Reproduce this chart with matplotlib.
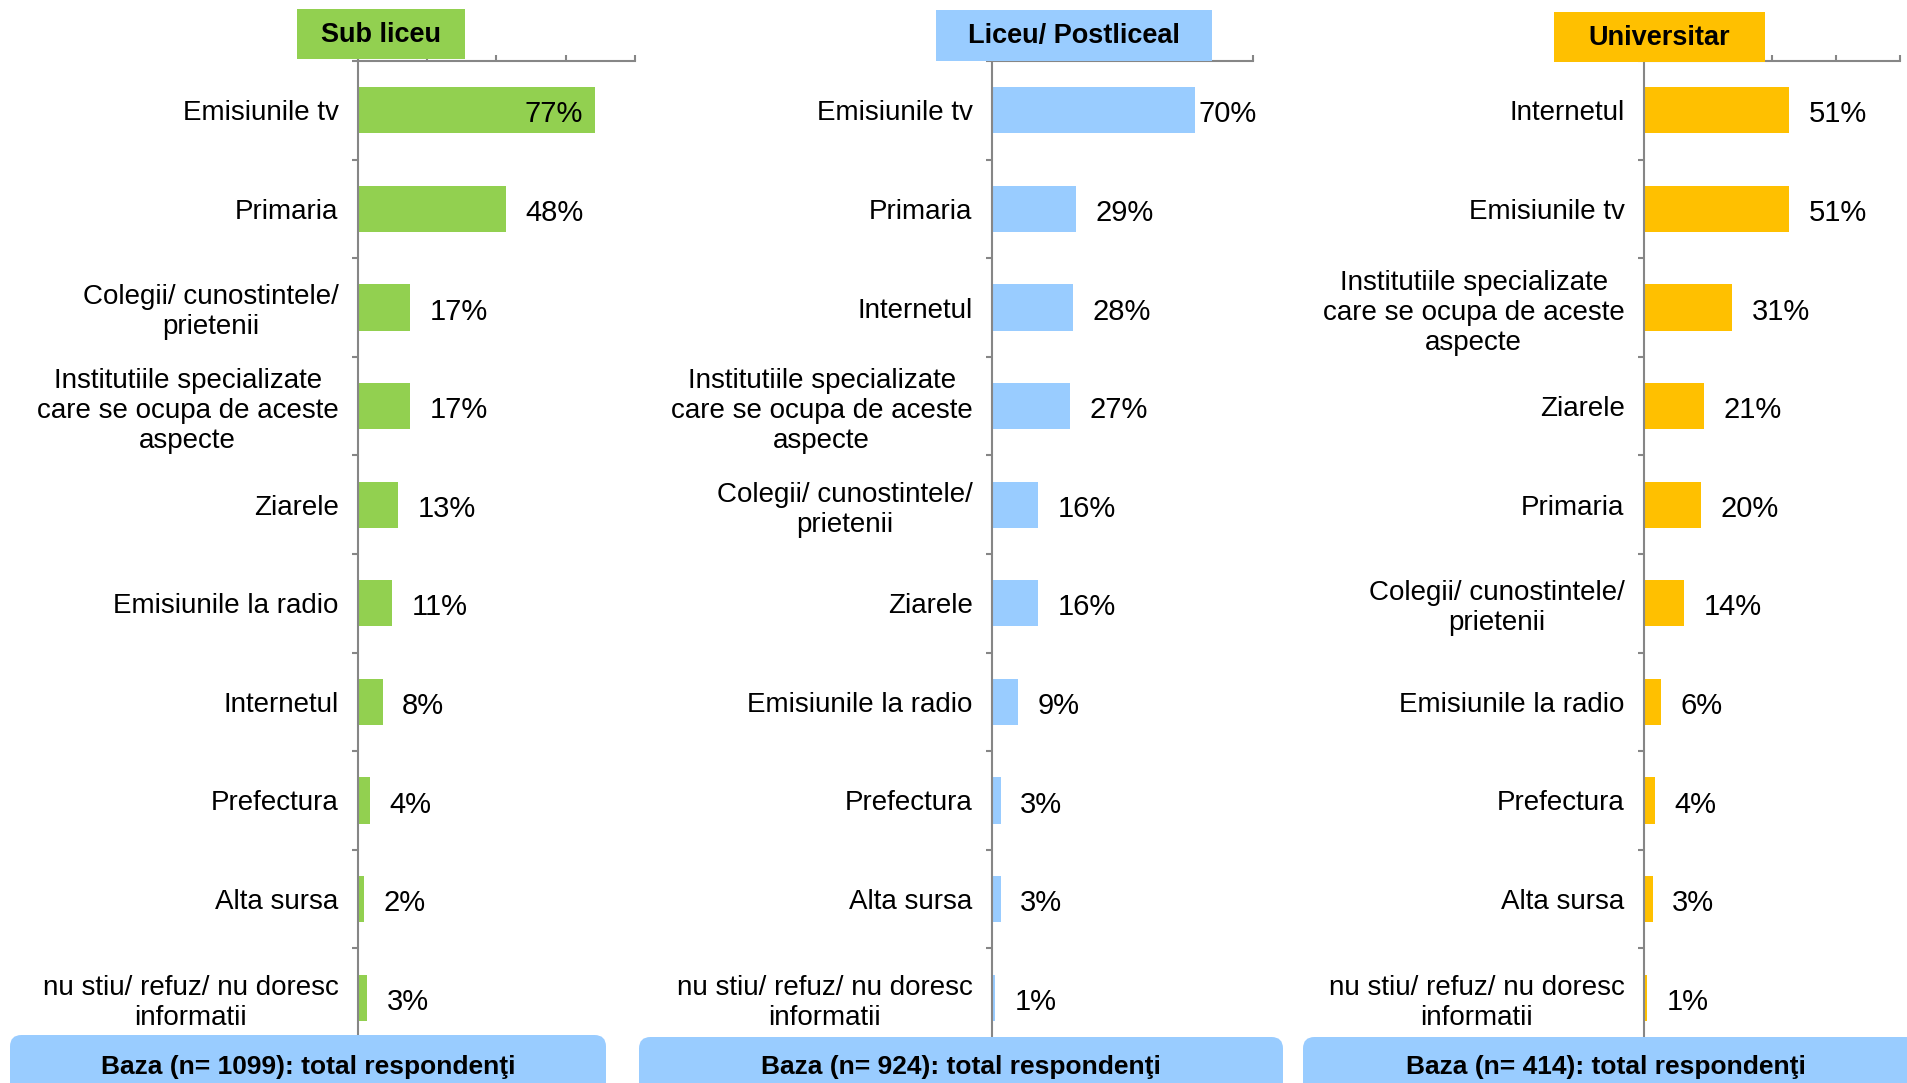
import numpy as np
import matplotlib
matplotlib.use("Agg")
import matplotlib.pyplot as plt
from matplotlib.patches import Rectangle, FancyBboxPatch

plt.rcParams['font.family'] = ['Liberation Sans', 'DejaVu Sans']

# data
inst = "Institutiile specializate\ncare se ocupa de aceste\naspecte"
coleg = "Colegii/ cunostintele/\nprietenii"
nustiu = "nu stiu/ refuz/ nu doresc\ninformatii"

cats_sub = ["Emisiunile tv", "Primaria", coleg, inst, "Ziarele",
            "Emisiunile la radio", "Internetul", "Prefectura", "Alta sursa", nustiu]
vals_sub = [77, 48, 17, 17, 13, 11, 8, 4, 2, 3]

cats_lic = ["Emisiunile tv", "Primaria", "Internetul", inst, coleg, "Ziarele",
            "Emisiunile la radio", "Prefectura", "Alta sursa", nustiu]
vals_lic = [70, 29, 28, 27, 16, 16, 9, 3, 3, 1]

cats_uni = ["Internetul", "Emisiunile tv", inst, "Ziarele", "Primaria", coleg,
            "Emisiunile la radio", "Prefectura", "Alta sursa", nustiu]
vals_uni = [51, 51, 31, 21, 20, 14, 6, 4, 3, 1]

titles = ["Sub liceu", "Liceu/ Postliceal", "Universitar"]
colors = ["#92D050", "#99CCFF", "#FFC000"]
bases = [1099, 924, 414]

W, H = 1908, 1083
gray = "#868686"
fig = plt.figure(figsize=(W / 100, H / 100), dpi=100)
renderer = fig.canvas.get_renderer()

# layout in pixels
ax_lr = [(358, 635), (992, 1253), (1644, 1900)]
ax_top, ax_bot = 61, 1047
title_px = [(297, 9, 465, 59), (936, 10, 1212, 61), (1554, 12, 1765, 62)]
baza_px = [(10, 1035, 606), (639, 1037, 1283), (1303, 1037, 1935)]
xmax = 0.9
dy = -3

panels = [(cats_sub, vals_sub), (cats_lic, vals_lic), (cats_uni, vals_uni)]

for i, (cats, vals) in enumerate(panels):
    l, r = ax_lr[i]
    ax = fig.add_axes([l / W, 1 - ax_bot / H, (r - l) / W, (ax_bot - ax_top) / H])
    n = len(cats)
    y = np.arange(n)
    v = np.array(vals) / 100
    ax.barh(y, v, height=0.47, color=colors[i])
    ax.set_ylim(n - 0.5, -0.5)
    ax.set_xlim(0, xmax)

    for s in ["right", "bottom"]:
        ax.spines[s].set_visible(False)
    for s in ["left", "top"]:
        ax.spines[s].set_color(gray)
        ax.spines[s].set_linewidth(1.5)

    ax.xaxis.tick_top()
    ax.set_xticks(np.linspace(0, xmax, 5))
    ax.tick_params(axis='x', length=4, width=1.5, color=gray, labeltop=False)

    ax.set_yticks(y, labels=cats)
    ax.set_yticks(np.arange(n + 1) - 0.5, minor=True)
    ax.tick_params(axis='y', which='major', length=0, pad=14, labelsize=20)
    ax.tick_params(axis='y', which='minor', length=4.5, width=1.5, color=gray)
    for t in ax.get_yticklabels():
        t.set_multialignment('center')
        t.set_linespacing(1.2)

    # value labels: outside, shifted left to fit, or inside if too long
    axright = ax.transData.transform((xmax, 0))[0]
    for val, x, yi in zip(vals, v, y):
        t = ax.annotate(f"{val}%", (x, yi), xytext=(14, dy), textcoords='offset points',
                        ha='left', va='center', fontsize=21)
        bb = t.get_window_extent(renderer)
        if bb.x1 > axright:
            bar_end = ax.transData.transform((x, 0))[0]
            left = axright + 4 - bb.width
            if left >= bar_end - 8:
                t.xyann = ((left - bar_end) * 72 / 100, dy)
            else:
                t.set_ha('right')
                t.xyann = (-9, dy)

    # title box
    x0, y0, x1, y1 = title_px[i]
    fig.patches.append(Rectangle((x0 / W, 1 - y1 / H), (x1 - x0) / W, (y1 - y0) / H,
                                 transform=fig.transFigure, facecolor=colors[i],
                                 edgecolor='none', zorder=2))
    fig.text((x0 + x1) / 2 / W, 1 - (y0 + y1 + 2) / 2 / H, titles[i], ha='center',
             va='center', fontsize=19.5, fontweight='bold', zorder=3)

    # base box
    bx0, by0, bx1 = baza_px[i]
    fig.patches.append(FancyBboxPatch((bx0 / W, 1 - 1110 / H), (bx1 - bx0) / W, (1110 - by0) / H,
                                      boxstyle="round,pad=0,rounding_size=0.006",
                                      mutation_aspect=W / H, transform=fig.transFigure,
                                      facecolor="#99CCFF", edgecolor='none', zorder=2))
    fig.text((bx0 + min(bx1, W)) / 2 / W, 1 - 1067 / H,
             f"Baza (n= {bases[i]}): total respondenţi", ha='center', va='center',
             fontsize=19, fontweight='bold', zorder=3)

fig.savefig("out.png", dpi=100)
